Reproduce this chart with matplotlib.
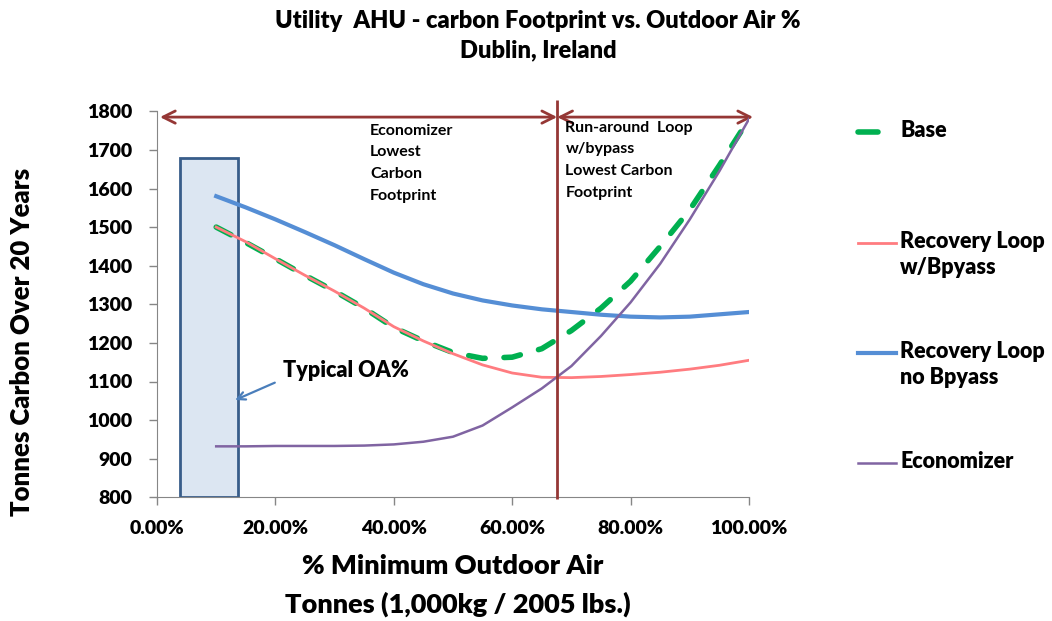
import matplotlib.pyplot as plt
from matplotlib.lines import Line2D
from matplotlib.patches import Rectangle
from matplotlib.ticker import PercentFormatter, MultipleLocator

plt.rcParams['font.family'] = ['Lato', 'DejaVu Sans']
plt.rcParams['font.weight'] = 'heavy'

# % minimum outdoor air
oa = [0.10, 0.15, 0.20, 0.25, 0.30, 0.35, 0.40, 0.45, 0.50, 0.55,
      0.60, 0.65, 0.70, 0.75, 0.80, 0.85, 0.90, 0.95, 1.00]

# tonnes carbon over 20 years
base = [1500, 1460, 1418, 1375, 1334, 1290, 1240, 1205, 1175, 1160,
        1163, 1185, 1232, 1290, 1360, 1450, 1545, 1660, 1780]
loop_bypass = [1500, 1462, 1418, 1375, 1334, 1290, 1242, 1205, 1172, 1143,
               1122, 1111, 1110, 1113, 1118, 1124, 1132, 1142, 1155]
loop_no_bypass = [1580, 1551, 1520, 1487, 1453, 1417, 1382, 1352, 1328, 1310,
                  1297, 1287, 1280, 1273, 1268, 1266, 1268, 1274, 1280]
economizer = [932, 932, 933, 933, 933, 934, 937, 944, 957, 986,
              1033, 1082, 1140, 1218, 1305, 1405, 1520, 1645, 1780]

labels = ['Base', 'Recovery Loop\nw/Bpyass', 'Recovery Loop\nno Bpyass', 'Economizer']

# crossover between economizer and run-around loop
crossover = 0.676
# typical OA% band
typ_lo, typ_hi, typ_top = 0.039, 0.136, 1680

dark_red = '#953735'
green = '#00B050'
salmon = '#FF7C80'
blue = '#558ED5'
purple = '#8064A2'

W, H = 1052, 621
fig = plt.figure(figsize=(W / 100, H / 100), dpi=100)
ax = fig.add_axes([157 / W, 1 - 497.3 / H, 592 / W, 386 / H])

ax.add_patch(Rectangle((typ_lo, 800), typ_hi - typ_lo, typ_top - 800,
                       facecolor='#DCE6F2', edgecolor='#385D8A', lw=2, zorder=1))

ax.plot(oa, base, color=green, lw=4, dashes=(3, 3.4), dash_capstyle='round', zorder=3)
ax.plot(oa, loop_bypass, color=salmon, lw=2, zorder=4)
ax.plot(oa, loop_no_bypass, color=blue, lw=3, zorder=4)
ax.plot(oa, economizer, color=purple, lw=1.8, zorder=4)

ax.vlines(crossover, 795, 1830, color=dark_red, lw=2, clip_on=False, zorder=5)
arrow = dict(arrowstyle='<->', color=dark_red, lw=2, mutation_scale=22, shrinkA=0, shrinkB=0)
ax.annotate('', xy=(0.005, 1785), xytext=(crossover, 1785), arrowprops=arrow,
            annotation_clip=False)
ax.annotate('', xy=(crossover, 1785), xytext=(1.007, 1785), arrowprops=arrow,
            annotation_clip=False)

ax.text(0.36, 1768, 'Economizer\nLowest\nCarbon\nFootprint', fontsize=11.5, fontweight='bold',
        va='top', ha='left', linespacing=1.7)
ax.text(0.69, 1776, 'Run-around  Loop\nw/bypass\nLowest Carbon\nFootprint', fontsize=11.5,
        fontweight='bold', va='top', ha='left', linespacing=1.7)

ax.text(0.212, 1128, 'Typical OA%', fontsize=15.5, va='center', ha='left')
ax.annotate('', xy=(0.132, 1052), xytext=(0.199, 1097),
            arrowprops=dict(arrowstyle='->', color='#4A7EBB', lw=1.6, mutation_scale=14,
                            shrinkA=0, shrinkB=0))

ax.set_xlim(0, 1)
ax.set_ylim(800, 1800)
ax.xaxis.set_major_locator(MultipleLocator(0.2))
ax.xaxis.set_major_formatter(PercentFormatter(xmax=1, decimals=2))
ax.yaxis.set_major_locator(MultipleLocator(100))
for s in ['top', 'right']:
    ax.spines[s].set_visible(False)
for s in ['left', 'bottom']:
    ax.spines[s].set_color('#868686')
ax.tick_params(axis='both', colors='#868686', labelcolor='black', length=6, width=1,
               labelsize=14)
ax.tick_params(axis='x', pad=10)
ax.tick_params(axis='y', pad=12)

fig.text(538 / W, 1 - 21 / H, 'Utility  AHU - carbon Footprint vs. Outdoor Air %',
         fontsize=17, ha='center', va='center')
fig.text(538 / W, 1 - 50 / H, 'Dublin, Ireland', fontsize=17, ha='center', va='center')
fig.text(22 / W, 1 - 342 / H, 'Tonnes Carbon Over 20 Years', fontsize=18.5,
         rotation=90, ha='center', va='center')
fig.text(453 / W, 1 - 566 / H, '% Minimum Outdoor Air', fontsize=19.5, ha='center', va='center')
fig.text(458 / W, 1 - 604 / H, 'Tonnes (1,000kg / 2005 lbs.)', fontsize=19.5,
         ha='center', va='center')

# legend entries on the right
styles = [dict(color=green, lw=4, solid_capstyle='round'),
          dict(color=salmon, lw=2),
          dict(color=blue, lw=3),
          dict(color=purple, lw=1.8)]
handle_y = [131.7, 242.5, 353, 463]
handle_x1 = [878, 896, 896, 896]
for lab, st, hy, hx in zip(labels, styles, handle_y, handle_x1):
    fig.add_artist(Line2D([858 / W, hx / W], [1 - hy / H, 1 - hy / H],
                          transform=fig.transFigure, **st))
    fig.text(900 / W, 1 - (hy - 12) / H, lab, fontsize=15.5, ha='left', va='top',
             linespacing=1.3)

fig.savefig('out.png', dpi=100)
